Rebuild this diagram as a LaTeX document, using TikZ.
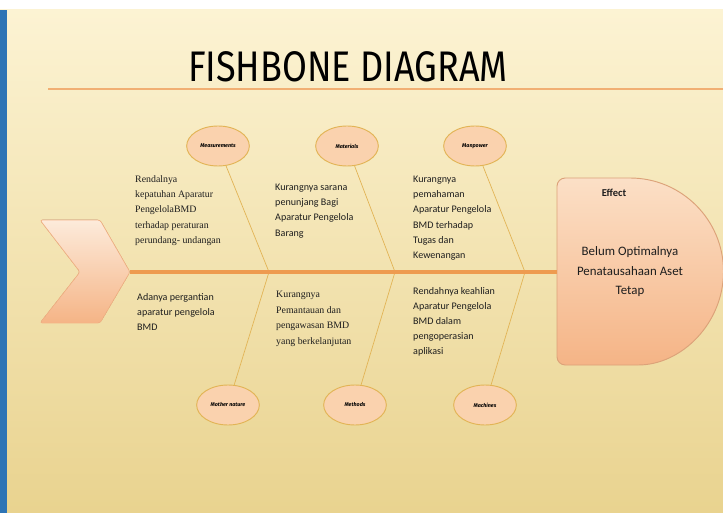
\documentclass[tikz,border=0pt]{standalone}
\usepackage{fontspec}
\usepackage{graphicx}
\setmainfont{Carlito}
\newfontfamily\serifbody{Liberation Serif}
\newfontfamily\titlefont{Fira Sans}
\usepackage{tikz}
\usetikzlibrary{shapes.geometric, positioning}
\definecolor{bgTop}{HTML}{FCF3D3}
\definecolor{bgBottom}{HTML}{E9D38F}
\definecolor{sideBlue}{HTML}{2E74B5}
\definecolor{peach}{HTML}{FAD2AE}
\definecolor{peachDark}{HTML}{F5B486}
\definecolor{boneGold}{HTML}{E2B456}
\definecolor{spineOrange}{HTML}{EE9B50}
\definecolor{inkGray}{HTML}{1E1E1E}

\begin{document}
\begin{tikzpicture}[
  x=0.03cm, y=-0.03cm,
  cause/.style={ellipse, draw=boneGold, fill=peach, line width=0.8pt, minimum width=1.88cm, minimum height=1.2cm, inner sep=0pt, text=black, font=\titlefont\bfseries\itshape\fontsize{4.6}{5}\selectfont},
  bone/.style={draw=boneGold, line width=0.6pt},
  note/.style={anchor=north west, align=left, inner sep=0pt, text=inkGray, font=\fontsize{8.6}{12.9}\selectfont},
  serifnote/.style={note, font=\serifbody\fontsize{8.4}{13.2}\selectfont}
]
  % background and frame
  \useasboundingbox (0,0) rectangle (723,513);
  \fill[white] (0,0) rectangle (723,10);
  \fill[top color=bgTop, bottom color=bgBottom] (0,10) rectangle (723,513);
  \fill[sideBlue] (0,10) rectangle (7,513);

  \node[black] (title) at (348,67) {\resizebox{273pt}{25.6pt}{\titlefont FISHBONE DIAGRAM}};
  \coordinate (ruleL) at (48,89);
  \coordinate (ruleR) at (723,89);
  \draw[spineOrange!80, line width=1.6pt] (ruleL) -- (ruleR);

  % head and effect
  \fill[top color=peach!45, bottom color=peachDark, draw=peachDark, line width=0.6pt, rounded corners=2pt]
    (40,220) -- (100,220) -- (130,272) -- (100,323) -- (40,323) -- (80,272) -- cycle;
  \coordinate (head) at (130,272);

  \path[top color=peach!70, bottom color=peachDark, draw=peachDark!90!black, line width=0.8pt, rounded corners=7pt]
    (630,178) -- (557,178) -- (557,365) -- (630,365) [rounded corners=0pt] arc[start angle=90, end angle=-90, radius=93.5] -- cycle;
  \coordinate (effect) at (557,272);
  \node[text=inkGray, font=\bfseries\fontsize{9}{10}\selectfont] (effLabel) at (614,193) {Effect};
  \node[text=inkGray, align=center, font=\fontsize{11}{16.6}\selectfont] (effText) at (630,272) {Belum Optimalnya\\Penatausahaan Aset\\Tetap};

  % causes
  \node[cause] (meas) at (218,146) {Measurements};
  \node[cause] (mat)  at (347,146) {Materials};
  \node[cause] (man)  at (475,146) {Manpower};
  \node[cause] (moth) at (228,405) {Mother nature};
  \node[cause] (meth) at (355,405) {Methods};
  \node[cause] (mach) at (485,405) {Machines};

  \coordinate (j1) at (269,272);
  \coordinate (j2) at (395,272);
  \coordinate (j3) at (525,272);

  \draw[bone] (meas) -- (j1) -- (moth);
  \draw[bone] (mat) -- (j2) -- (meth);
  \draw[bone] (man) -- (j3) -- (mach);

  \draw[spineOrange, line width=2.6pt] (head) -- (effect);

  % notes
  \node[serifnote] (noteMeas) at (135,175) {Rendalnya\\kepatuhan Aparatur\\PengelolaBMD\\terhadap peraturan\\perundang- undangan};
  \node[note] (noteMoth) at (137,293) {Adanya pergantian\\aparatur pengelola\\BMD};
  \node[note] (noteMat) at (275,184) {Kurangnya sarana\\penunjang Bagi\\Aparatur Pengelola\\Barang};
  \node[serifnote] (noteMeth) at (276,291) {Kurangnya\\Pemantauan dan\\pengawasan BMD\\yang berkelanjutan};
  \node[note] (noteMan) at (413,176) {Kurangnya\\pemahaman\\Aparatur Pengelola\\BMD terhadap\\Tugas dan\\Kewenangan};
  \node[note] (noteMach) at (413,287) {Rendahnya keahlian\\Aparatur Pengelola\\BMD dalam\\pengoperasian\\aplikasi};
\end{tikzpicture}
\end{document}
